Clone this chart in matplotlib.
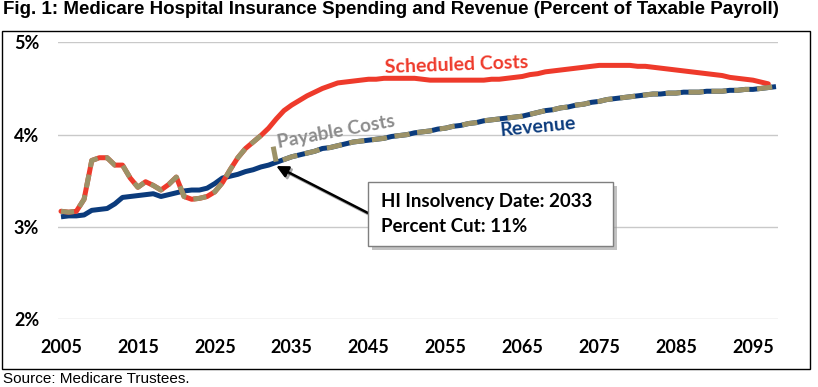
import numpy as np
import matplotlib
matplotlib.use("Agg")
import matplotlib.pyplot as plt
from matplotlib import font_manager
from matplotlib.patches import Rectangle
import matplotlib.patheffects as pe

# ---------------- data ----------------
cost_years = list(range(2005, 2098))
scheduled_costs = [
    3.17, 3.16, 3.17, 3.30, 3.72, 3.75, 3.75, 3.67, 3.67, 3.53,   # 2005-2014
    3.43, 3.49, 3.45, 3.40, 3.46, 3.54, 3.33, 3.30, 3.31, 3.33,   # 2015-2024
    3.38, 3.48, 3.62, 3.75, 3.85, 3.92, 3.99, 4.07, 4.17, 4.26,   # 2025-2034
    4.32, 4.37, 4.42, 4.46, 4.50, 4.53, 4.56, 4.57, 4.58, 4.59,   # 2035-2044
    4.60, 4.60, 4.61, 4.61, 4.61, 4.61, 4.61, 4.60, 4.59, 4.59,   # 2045-2054
    4.59, 4.59, 4.59, 4.59, 4.59, 4.59, 4.60, 4.60, 4.61, 4.62,   # 2055-2064
    4.63, 4.65, 4.66, 4.68, 4.69, 4.70, 4.71, 4.72, 4.73, 4.74,   # 2065-2074
    4.75, 4.75, 4.75, 4.75, 4.75, 4.74, 4.74, 4.73, 4.72, 4.71,   # 2075-2084
    4.70, 4.69, 4.68, 4.67, 4.66, 4.65, 4.64, 4.62, 4.61, 4.60,   # 2085-2094
    4.59, 4.57, 4.55,                                             # 2095-2097
]

revenue_years = list(range(2005, 2099))
revenue = [
    3.11, 3.12, 3.12, 3.13, 3.18, 3.19, 3.20, 3.25, 3.32, 3.33,   # 2005-2014
    3.34, 3.35, 3.36, 3.33, 3.35, 3.37, 3.39, 3.40, 3.40, 3.42,   # 2015-2024
    3.47, 3.53, 3.55, 3.57, 3.60, 3.62, 3.65, 3.67, 3.70, 3.73,   # 2025-2034
    3.76, 3.78, 3.80, 3.82, 3.85, 3.86, 3.88, 3.90, 3.92, 3.93,   # 2035-2044
    3.94, 3.95, 3.96, 3.98, 3.99, 4.00, 4.02, 4.03, 4.04, 4.06,   # 2045-2054
    4.07, 4.09, 4.10, 4.12, 4.13, 4.15, 4.16, 4.17, 4.18, 4.19,   # 2055-2064
    4.20, 4.22, 4.24, 4.26, 4.27, 4.29, 4.30, 4.32, 4.33, 4.35,   # 2065-2074
    4.36, 4.38, 4.39, 4.40, 4.41, 4.42, 4.43, 4.44, 4.44, 4.45,   # 2075-2084
    4.45, 4.46, 4.46, 4.46, 4.47, 4.47, 4.47, 4.48, 4.48, 4.49,   # 2085-2094
    4.49, 4.50, 4.51, 4.52,                                       # 2095-2098
]

# payable costs: equal to scheduled costs until 2031, then cut at insolvency (2033)
payable_last_full_year = 2031
insolvency_year = 2033
payable_pre_cut = 3.87          # top of the drop at insolvency
percent_cut = 11

y_ticks = [2, 3, 4, 5]
y_tick_labels = ["2%", "3%", "4%", "5%"]
x_ticks = list(range(2005, 2096, 10))
x_tick_labels = [str(y) for y in x_ticks]

title = "Fig. 1: Medicare Hospital Insurance Spending and Revenue (Percent of Taxable Payroll)"
source = "Source: Medicare Trustees."

# ---------------- style ----------------
RED = "#EE3A2B"
BLUE = "#0B3B7C"
TAN = "#9C9267"
GREY_TXT = "#8C8C8C"
GRID = "#C9C9C9"

avail = {f.name for f in font_manager.fontManager.ttflist}
head = "Liberation Sans"
body = "Lato" if "Lato" in avail else "DejaVu Sans"

plt.rcParams["lines.scale_dashes"] = False

fig = plt.figure(figsize=(8.18, 3.87), dpi=100)
W, H = 818, 387

def fx(px):
    return px / W

def fy(py):
    return 1 - py / H

# outer frame
fig.patches.append(Rectangle((fx(2), fy(369)), fx(810) - fx(2), fy(31) - fy(369),
                             transform=fig.transFigure, fill=False, edgecolor="black",
                             linewidth=1.0, zorder=0))

ax = fig.add_axes([fx(58), fy(319.3), fx(778) - fx(58), fy(42.3) - fy(319.3)])
px_per_year = (776 - 61) / (2098 - 2005)
ax.set_xlim(2005 - 3 / px_per_year, 2098 + 2 / px_per_year)
ax.set_ylim(2, 5)
for s in ax.spines.values():
    s.set_visible(False)
for yv in y_ticks:
    ax.axhline(yv, color=GRID, linewidth=1.0, zorder=0)

ax.set_yticks(y_ticks)
ax.set_yticklabels(y_tick_labels, fontsize=13, fontweight="bold", family=body)
ax.set_xticks(x_ticks)
ax.set_xticklabels(x_tick_labels, fontsize=13, fontweight="bold", family=body)
ax.tick_params(axis="both", length=0)
ax.tick_params(axis="y", pad=13.5)
ax.tick_params(axis="x", pad=14)

cy = np.array(cost_years)
sc = np.array(scheduled_costs)
ry = np.array(revenue_years)
rv = np.array(revenue)

lw = 3.6
ax.plot(ry, rv, color=BLUE, linewidth=lw, solid_capstyle="butt", zorder=2)
ax.plot(cy, sc, color=RED, linewidth=lw, solid_capstyle="round", zorder=2)

# payable costs (dashed tan)
mask_pre = cy <= payable_last_full_year
ax.plot(cy[mask_pre], sc[mask_pre], color=TAN, linewidth=lw, dashes=(9.5, 5.5),
        dash_capstyle="butt", zorder=3)
mask_post = ry >= insolvency_year
post_x = np.concatenate([[insolvency_year - 0.4], ry[mask_post]])
post_y = np.concatenate([[payable_pre_cut], rv[mask_post]])
ax.plot(post_x, post_y, color=TAN, linewidth=lw, dashes=(11, 5.5),
        dash_capstyle="butt", zorder=3)

# series labels
ax.text(2056.4, 4.75, "Scheduled Costs", color=RED, fontsize=14, fontweight="bold",
        family=body, rotation=2, ha="center", va="center", zorder=4)
ax.text(2040.8, 4.03, "Payable Costs", color=GREY_TXT, fontsize=13.8, fontweight="bold",
        family=body, rotation=10.5, ha="center", va="center", zorder=4)
ax.text(2067.0, 4.08, "Revenue", color=BLUE, fontsize=14, fontweight="bold",
        family=body, rotation=5.5, ha="center", va="center", zorder=4)

# annotation box with shadow
bx0, bx1 = 368, 613
by0, by1 = 182, 246
shadow = Rectangle((fx(bx0 + 4), fy(by1 + 4)), fx(bx1) - fx(bx0), fy(by0) - fy(by1),
                   transform=fig.transFigure, facecolor="#9A9A9A", edgecolor="none",
                   alpha=0.6, zorder=5)
fig.patches.append(shadow)
box = Rectangle((fx(bx0), fy(by1)), fx(bx1) - fx(bx0), fy(by0) - fy(by1),
                transform=fig.transFigure, facecolor="white", edgecolor="#7F7F7F",
                linewidth=1.0, zorder=6)
fig.patches.append(box)
fig.text(fx(381), fy(201.5), f"HI Insolvency Date: {insolvency_year}", fontsize=13.5,
         fontweight="bold", family=body, ha="left", va="center", zorder=7)
fig.text(fx(381), fy(227), f"Percent Cut: {percent_cut}%", fontsize=13.5,
         fontweight="bold", family=body, ha="left", va="center", zorder=7)

# arrow from box to insolvency point
ax.annotate("", xy=(insolvency_year, rv[ry == insolvency_year][0] - 0.04),
            xytext=(fx(bx0), fy(213)), textcoords="figure fraction",
            arrowprops=dict(arrowstyle="-|>,head_length=0.7,head_width=0.35",
                            color="black", linewidth=1.8, shrinkA=0, shrinkB=0,
                            path_effects=[pe.SimpleLineShadow(offset=(1.5, -1.5), alpha=0.35),
                                          pe.Normal()]),
            zorder=4)

fig.text(fx(3), fy(10), title, fontsize=13.5, fontweight="bold", family=head,
         ha="left", va="center")
fig.text(fx(3), fy(379), source, fontsize=11, family=head, ha="left", va="center")

fig.savefig("out.png", dpi=100)
